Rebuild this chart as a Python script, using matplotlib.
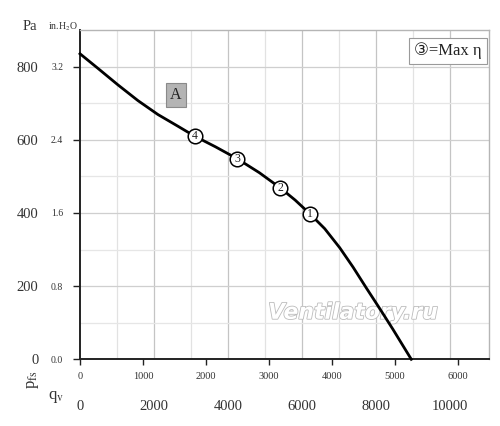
import matplotlib
matplotlib.use("Agg")
import matplotlib.pyplot as plt
import matplotlib.patheffects as pe

plt.rcParams['font.family'] = ['Liberation Serif', 'DejaVu Sans']
plt.rcParams['mathtext.fontset'] = 'stix'

# Fan curve: airflow in CFM vs static pressure in Pa
flow_cfm = [0, 286, 603, 921, 1238, 1556, 1820, 2150, 2500, 2850, 3186,
            3420, 3651, 3889, 4127, 4339, 4550, 4762, 4973, 5265]
pressure_pa = [835, 795, 750, 707, 669, 637, 610, 581, 548, 510, 468,
               435, 398, 357, 305, 252, 195, 139, 82, 0]

# numbered operating points
point_labels = ["1", "2", "3", "4"]
point_cfm = [3651, 3186, 2500, 1820]
point_pa = [398, 468, 548, 610]

# axis ticks
cfm_ticks = [0, 1000, 2000, 3000, 4000, 5000, 6000]
m3h_ticks = [0, 2000, 4000, 6000, 8000, 10000]
pa_ticks = [0, 200, 400, 600, 800]
inh2o_labels = ["0.0", "0.8", "1.6", "2.4", "3.2"]
m3h_grid = [1000, 2000, 3000, 4000, 5000, 6000, 7000, 8000, 9000, 10000]
pa_grid = [100, 200, 300, 400, 500, 600, 700, 800]

CFM_TO_M3H = 1.699

fig = plt.figure(figsize=(5.0, 4.26), dpi=100)
ax = fig.add_axes([0.16, 0.1566, 0.818, 0.773])
ax.set_xlim(0, 6500)
ax.set_ylim(0, 900)

# grid
for g in m3h_grid:
    ax.axvline(g / CFM_TO_M3H, color='#c4c4c4' if g % 2000 == 0 else '#e2e2e2',
               lw=0.9, zorder=0)
for g in pa_grid:
    ax.axhline(g, color='#cfcfcf' if g % 200 == 0 else '#e6e6e6', lw=0.9, zorder=0)

# spines
for s in ['top', 'right']:
    ax.spines[s].set_color('#b5b5b5')
    ax.spines[s].set_linewidth(1.0)
for s in ['left', 'bottom']:
    ax.spines[s].set_color('#222222')
    ax.spines[s].set_linewidth(1.4)

# primary ticks
ax.set_xticks(cfm_ticks)
ax.set_xticklabels([str(t) for t in cfm_ticks])
ax.set_yticks(pa_ticks)
ax.set_yticklabels(inh2o_labels)
ax.tick_params(axis='x', direction='out', length=4, width=1.0, pad=5,
               labelsize=7.5, colors='#222222', labelcolor='#333333')
ax.tick_params(axis='y', direction='out', length=5, width=1.0, pad=7,
               labelsize=7, colors='#222222', labelcolor='#333333')

# secondary x (m3/h)
secx = ax.secondary_xaxis('bottom', functions=(lambda x: x * CFM_TO_M3H,
                                               lambda x: x / CFM_TO_M3H))
secx.set_xticks(m3h_ticks)
secx.set_xticklabels([str(t) for t in m3h_ticks])
secx.tick_params(axis='x', length=0, pad=29, labelsize=10.5, labelcolor='#333333')
secx.spines['bottom'].set_visible(False)

# secondary y (Pa)
secy = ax.secondary_yaxis('left', functions=(lambda y: y, lambda y: y))
secy.set_yticks(pa_ticks)
secy.set_yticklabels([str(t) for t in pa_ticks])
secy.tick_params(axis='y', length=0, pad=30, labelsize=10.5, labelcolor='#333333')
secy.spines['left'].set_visible(False)

# watermark
ax.text(4340, 127, "Ventilatory.ru", fontsize=15.8, family='DejaVu Sans',
        fontweight='bold', style='italic', color='white', ha='center', va='center',
        zorder=1, path_effects=[pe.withStroke(linewidth=1.2, foreground='#bcbcbc')])

# curve
ax.plot(flow_cfm, pressure_pa, color='black', lw=2.0, zorder=3, clip_on=False,
        solid_joinstyle='round')

# numbered markers
ax.plot(point_cfm, point_pa, 'o', ms=10.5, mfc='white', mec='black', mew=1.1,
        zorder=4, linestyle='none')
for lab, x, y in zip(point_labels, point_cfm, point_pa):
    ax.text(x, y, lab, fontsize=8.5, ha='center', va='center', zorder=5,
            color='#222222')

# "A" label box
ax.text(1524, 721, "A", fontsize=11.5, ha='center', va='center', color='#222222',
        zorder=4, bbox=dict(boxstyle='square,pad=0.25', fc='#b4b4b4', ec='#8a8a8a', lw=0.8))

# legend box
ax.text(0.982, 0.962, "\u2462=Max \u03b7", transform=ax.transAxes, fontsize=12,
        ha='right', va='top', color='#222222', zorder=5,
        bbox=dict(boxstyle='square,pad=0.3', fc='white', ec='#9a9a9a', lw=0.8))

# axis unit labels
fig.text(30 / 500, 1 - 26 / 426, "Pa", fontsize=10.5, ha='center', va='center', color='#333333')
fig.text(63 / 500, 1 - 27 / 426, r"in.H$_2$O", fontsize=7, ha='center', va='center',
         color='#333333')
fig.text(33 / 500, 1 - 380 / 426, r"p$_{\mathrm{fs}}$", fontsize=12, rotation=90,
         ha='center', va='center', color='#333333')
fig.text(56 / 500, 1 - 397 / 426, r"q$_{\mathrm{v}}$", fontsize=12, ha='center', va='center',
         color='#333333')

fig.savefig("out.png", dpi=100, facecolor='white')
